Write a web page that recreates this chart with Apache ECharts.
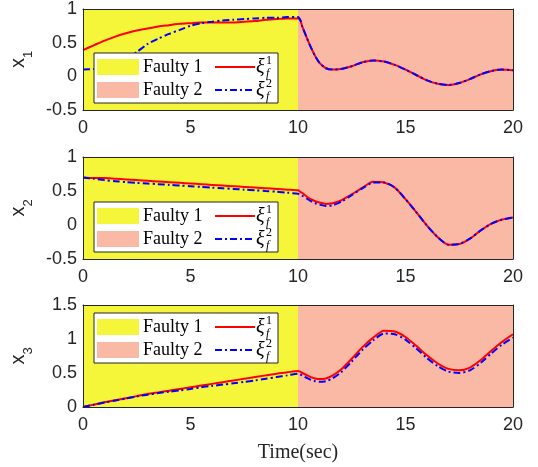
<!DOCTYPE html>
<html>
<head>
<meta charset="utf-8">
<script src="https://cdn.jsdelivr.net/npm/echarts@6/dist/echarts.min.js"></script>
<style>html,body{margin:0;padding:0;background:#fff;}#c{width:538px;height:467px;}</style>
</head>
<body>
<div id="c"></div>
<script>
// ---------- data ----------
const T = [0,0.5,1,1.5,2,2.5,3,3.5,4,4.5,5,5.5,6,6.5,7,7.5,8,8.5,9,9.5,10,
  10.1,10.2,10.4,10.6,10.8,11,11.3,11.6,12,12.5,13,13.5,14,14.5,15,15.5,16,16.5,17,17.5,18,18.5,19,19.5,20];

const x1_xi1 = [0.39,0.46,0.53,0.59,0.64,0.68,0.71,0.74,0.76,0.78,0.79,0.80,0.80,0.80,0.80,0.81,0.82,0.84,0.85,0.86,0.86,
  0.84,0.74,0.58,0.43,0.30,0.20,0.12,0.10,0.11,0.15,0.21,0.235,0.22,0.17,0.10,0.02,-0.06,-0.11,-0.13,-0.10,-0.04,0.03,0.08,0.10,0.09];
const x1_xi2 = [0.10,0.11,0.13,0.18,0.26,0.36,0.48,0.56,0.63,0.69,0.75,0.79,0.81,0.83,0.84,0.85,0.86,0.87,0.87,0.88,0.88,
  0.84,0.74,0.58,0.43,0.30,0.20,0.12,0.10,0.11,0.15,0.21,0.235,0.22,0.17,0.10,0.02,-0.06,-0.11,-0.13,-0.10,-0.04,0.03,0.08,0.10,0.09];

const x2_xi1 = [0.70,0.69,0.69,0.68,0.67,0.66,0.65,0.64,0.63,0.62,0.61,0.60,0.59,0.58,0.57,0.56,0.55,0.54,0.53,0.52,0.51,
  0.49,0.47,0.42,0.38,0.35,0.33,0.31,0.32,0.36,0.45,0.55,0.635,0.625,0.55,0.38,0.19,-0.01,-0.18,-0.29,-0.28,-0.20,-0.08,0.02,0.08,0.11];
const x2_xi2 = [0.70,0.68,0.66,0.645,0.63,0.62,0.61,0.60,0.59,0.58,0.57,0.56,0.55,0.54,0.53,0.52,0.51,0.50,0.49,0.475,0.46,
  0.45,0.43,0.39,0.35,0.32,0.30,0.28,0.29,0.34,0.44,0.54,0.625,0.625,0.55,0.38,0.19,-0.01,-0.18,-0.29,-0.28,-0.20,-0.08,0.02,0.08,0.11];

const x3_xi1 = [0,0.035,0.07,0.10,0.13,0.16,0.19,0.215,0.24,0.265,0.29,0.315,0.34,0.365,0.39,0.415,0.44,0.465,0.49,0.51,0.53,
  0.52,0.50,0.47,0.44,0.42,0.41,0.42,0.46,0.55,0.71,0.88,1.02,1.12,1.11,1.03,0.90,0.76,0.64,0.56,0.54,0.58,0.69,0.83,0.96,1.07];
const x3_xi2 = [0,0.033,0.065,0.095,0.125,0.155,0.18,0.205,0.225,0.245,0.265,0.29,0.31,0.33,0.35,0.37,0.39,0.415,0.44,0.465,0.49,
  0.48,0.46,0.43,0.40,0.38,0.37,0.38,0.42,0.51,0.67,0.84,0.98,1.08,1.07,0.99,0.86,0.72,0.60,0.52,0.50,0.54,0.65,0.79,0.92,1.02];

const faultBounds = [0, 10, 20];
const faultNames = ['Faulty 1', 'Faulty 2'];
const xTicks = { min: 0, max: 20, interval: 5 };
const yRanges = [ {min:-0.5, max:1, interval:0.5}, {min:-0.5, max:1, interval:0.5}, {min:0, max:1.5, interval:0.5} ];
const yNames = ['1', '2', '3'];
const seriesSets = [[x1_xi1, x1_xi2], [x2_xi1, x2_xi2], [x3_xi1, x3_xi2]];

// ---------- style / layout ----------
const YELLOW = '#f5f53a', SALMON = '#f9b9a5', AXC = '#262626';
const RED = '#ff0000', BLUE = '#0000ff';
const GL = 82, GW = 431, GH = 102, GTOPS = [8, 157, 305];
const LEG_OFF = [45, 45, 8];
const SANS = 'Liberation Sans, Arial, Helvetica, sans-serif';
const SERIF = 'Liberation Serif, Times New Roman, serif';

function pairs(arr){ return T.map((t,i)=>[t, arr[i]]); }

const grid = [], xAxis = [], yAxis = [], series = [], elements = [];
GTOPS.forEach((top, i) => {
  grid.push({ left: GL, top: top, width: GW, height: GH, containLabel: false });
  const axLine = { show: true, onZero: false, lineStyle: { color: AXC, width: 1 } };
  const last = i === GTOPS.length - 1;
  xAxis.push({ gridIndex: i, type: 'value', min: xTicks.min, max: xTicks.max, interval: xTicks.interval, z: 10,
    axisLine: axLine, axisTick: { show: false }, splitLine: { show: false },
    axisLabel: { color: AXC, fontSize: 18, fontFamily: SANS, margin: 9 },
    name: last ? 'Time(sec)' : '', nameLocation: 'middle', nameGap: 36,
    nameTextStyle: { color: AXC, fontSize: 20, fontFamily: SERIF } });
  xAxis.push({ gridIndex: i, type: 'value', position: 'top', min: xTicks.min, max: xTicks.max, interval: xTicks.interval, z: 10,
    axisLine: axLine, axisTick: { show: false }, splitLine: { show: false }, axisLabel: { show: false } });
  yAxis.push({ gridIndex: i, type: 'value', min: yRanges[i].min, max: yRanges[i].max, interval: yRanges[i].interval, z: 10,
    axisLine: axLine, axisTick: { show: false }, splitLine: { show: false },
    axisLabel: { color: AXC, fontSize: 18, fontFamily: SANS, margin: 6 },
    name: '{x|x}{s|' + yNames[i] + '}', nameLocation: 'middle', nameRotate: 90, nameGap: 48,
    nameTextStyle: { rich: {
      x: { fontSize: 20, fontFamily: SANS, color: AXC, verticalAlign: 'bottom', padding: [0,0,7,0] },
      s: { fontSize: 13, fontFamily: SANS, color: AXC, verticalAlign: 'bottom' } } } });
  yAxis.push({ gridIndex: i, type: 'value', position: 'right', min: yRanges[i].min, max: yRanges[i].max, interval: yRanges[i].interval, z: 10,
    axisLine: axLine, axisTick: { show: false }, splitLine: { show: false }, axisLabel: { show: false } });

  const [s1, s2] = seriesSets[i];
  series.push({ type: 'line', xAxisIndex: 2*i, yAxisIndex: 2*i, data: pairs(s1), symbol: 'none', smooth: 0.25,
    lineStyle: { color: RED, width: 2 }, z: 3, silent: true,
    markArea: { silent: true, z: 1, data: [
      [{ xAxis: faultBounds[0], itemStyle: { color: YELLOW, opacity: 1 } }, { xAxis: faultBounds[1] }],
      [{ xAxis: faultBounds[1], itemStyle: { color: SALMON, opacity: 1 } }, { xAxis: faultBounds[2] }] ] } });
  series.push({ type: 'line', xAxisIndex: 2*i, yAxisIndex: 2*i, data: pairs(s2), symbol: 'none', smooth: 0.25,
    lineStyle: { color: BLUE, width: 2, type: [7, 3, 2, 3] }, z: 4, silent: true });

  // legend box (MATLAB style), absolute positioned elements
  const lx = 94, ly = top + LEG_OFF[i];
  const rows = [ly + 14, ly + 37];
  elements.push({ type: 'rect', z: 100, shape: { x: lx, y: ly, width: 184, height: 50 }, style: { fill: '#ffffff', stroke: AXC, lineWidth: 1 } });
  elements.push({ type: 'rect', z: 101, shape: { x: lx + 3, y: rows[0] - 8, width: 42, height: 16 }, style: { fill: YELLOW } });
  elements.push({ type: 'rect', z: 101, shape: { x: lx + 3, y: rows[1] - 8, width: 42, height: 16 }, style: { fill: SALMON } });
  elements.push({ type: 'line', z: 101, shape: { x1: lx + 121, y1: rows[0], x2: lx + 161, y2: rows[0] }, style: { stroke: RED, lineWidth: 2 } });
  elements.push({ type: 'line', z: 101, shape: { x1: lx + 121, y1: rows[1], x2: lx + 161, y2: rows[1] }, style: { stroke: BLUE, lineWidth: 2, lineDash: [7,3,2,3] } });
  rows.forEach((ry, k) => {
    elements.push({ type: 'text', z: 102, x: lx + 49, y: ry, style: { text: faultNames[k], fontSize: 18, fontFamily: SERIF, fill: '#000', verticalAlign: 'middle' } });
    elements.push({ type: 'text', z: 102, x: lx + 162, y: ry + 1, style: { text: 'ξ', fontSize: 20, fontStyle: 'italic', fontFamily: SERIF, fill: '#000', verticalAlign: 'middle' } });
    elements.push({ type: 'text', z: 102, x: lx + 172, y: ry - 6, style: { text: String(k + 1), fontSize: 12, fontFamily: SERIF, fill: '#000', verticalAlign: 'middle' } });
    elements.push({ type: 'text', z: 102, x: lx + 172, y: ry + 7, style: { text: 'f', fontSize: 12, fontStyle: 'italic', fontFamily: SERIF, fill: '#000', verticalAlign: 'middle' } });
  });
});

const chart = echarts.init(document.getElementById('c'), null, { renderer: 'canvas' });
chart.setOption({ animation: false, backgroundColor: '#fff', grid, xAxis, yAxis, series });
chart.setOption({ graphic: { elements: elements } });
</script>
</body>
</html>
